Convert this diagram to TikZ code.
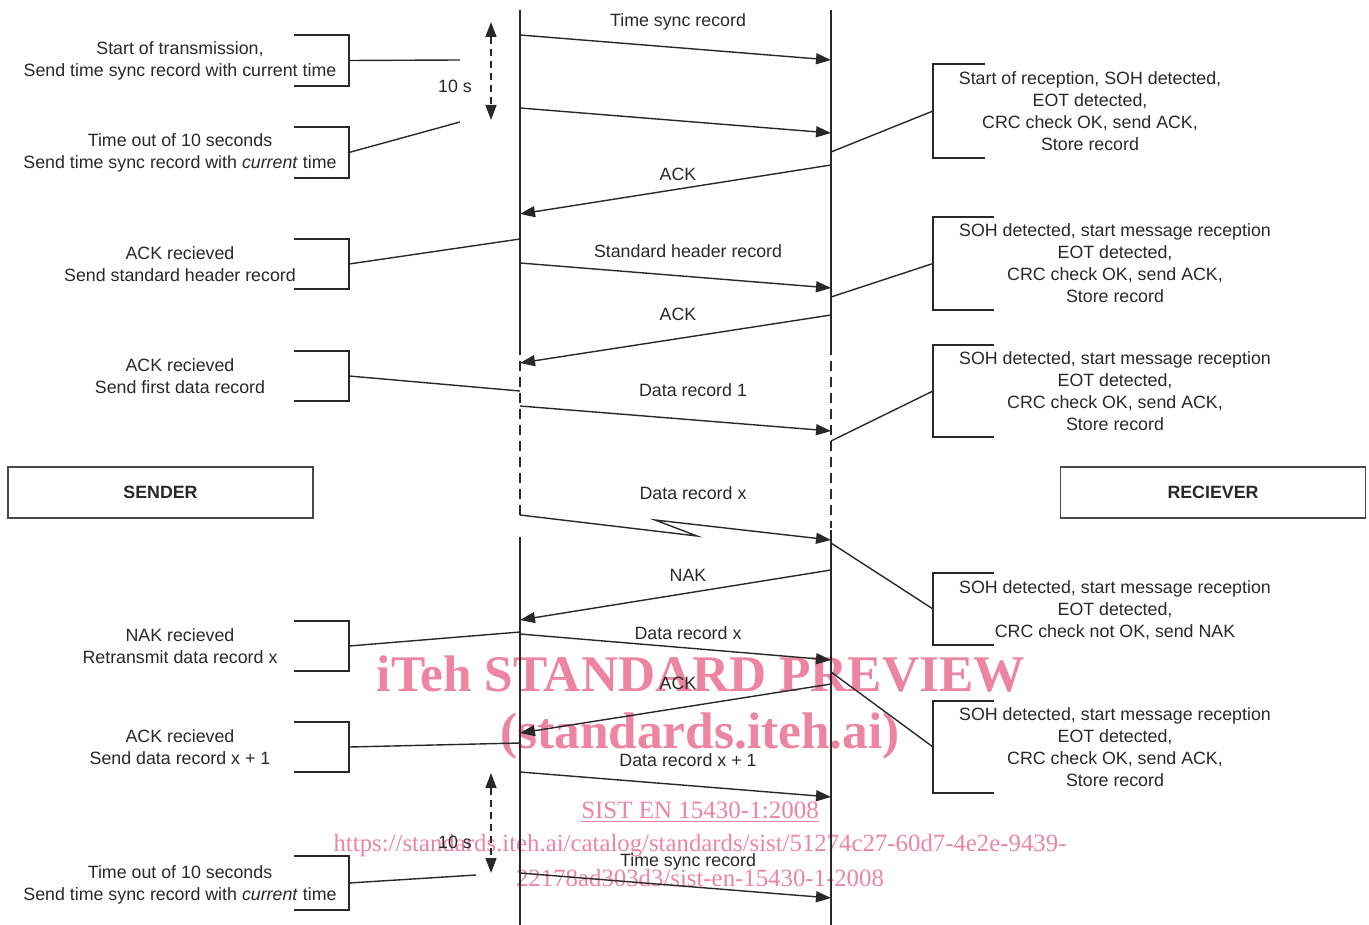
\documentclass[tikz,border=0pt]{standalone}
\usepackage{fontspec}
\setmainfont{Liberation Sans}
\newfontfamily\wmfont{Liberation Serif}
\usetikzlibrary{arrows.meta}
\definecolor{wmpink}{RGB}{236,132,162}
\definecolor{ink}{RGB}{40,40,40}
\begin{document}
\begin{tikzpicture}[x=0.5pt,y=-0.5pt,
  line/.style={draw=ink, line width=0.7pt},
  tip/.tip={Triangle[length=7.5pt,width=5.5pt]},
  msg/.style={line, -tip},
  life/.style={line},
  lifedash/.style={line, dash pattern=on 5pt off 3pt},
  timer/.style={line, dash pattern=on 3.5pt off 2.5pt, tip-tip},
  note/.style={align=center, inner sep=0pt, text=ink, font=\fontsize{8.9}{11}\selectfont},
  lbl/.style={inner sep=0pt, text=ink, font=\fontsize{8.9}{11}\selectfont},
  box/.style={draw=ink!85, line width=0.8pt, minimum width=152.5pt, minimum height=25.5pt, inner sep=0pt, text=ink, font=\bfseries\fontsize{8.9}{11}\selectfont},
  wm/.style={inner sep=0pt, text=wmpink}
]
\useasboundingbox (0,0) rectangle (1369,925);

% watermark (beneath)
\node[wm, font=\wmfont\bfseries\fontsize{25.7}{30}\selectfont] (wm1) at (701,674) {iTeh STANDARD PREVIEW};
\node[wm, font=\wmfont\bfseries\fontsize{25.7}{30}\selectfont] (wm2) at (700,736) {(standards.iteh.ai)};
\node[wm, font=\wmfont\fontsize{12.5}{16}\selectfont] (wm3) at (700,812) {\underline{SIST EN 15430-1:2008}};
\node[wm, font=\wmfont\fontsize{12.4}{16}\selectfont] (wm4) at (700,846) {https://standards.iteh.ai/catalog/standards/sist/51274c27-60d7-4e2e-9439-};
\node[wm, font=\wmfont\fontsize{12.4}{16}\selectfont] (wm5) at (700,878) {22178ad303d3/sist-en-15430-1-2008};

% lifelines
\coordinate (sTop) at (520,10);   \coordinate (sD1) at (520,345);
\coordinate (sD2) at (520,515);   \coordinate (sS) at (520,537);  \coordinate (sBot) at (520,925);
\coordinate (rTop) at (831,10);   \coordinate (rD1) at (831,345);
\coordinate (rD2) at (831,528);   \coordinate (rS) at (831,530);  \coordinate (rBot) at (831,925);
\draw[life] (sTop) -- (sD1);
\draw[lifedash] (sD1) -- (sD2);
\draw[life] (sS) -- (sBot);
\draw[life] (rTop) -- (rD1);
\draw[lifedash] (rD1) -- (rD2);
\draw[life] (rS) -- (rBot);

% actor boxes
\node[box] (sender) at (160.5,492.5) {SENDER};
\node[box] (receiver) at (1213,492.5) {RECIEVER};

% message end points
\coordinate (s1) at (520,35);  \coordinate (r1) at (831,60);
\coordinate (s2) at (520,108); \coordinate (r2) at (831,133);
\coordinate (r3) at (831,165); \coordinate (s3) at (520,214);
\coordinate (s4) at (520,263); \coordinate (r4) at (831,288);
\coordinate (r5) at (831,315); \coordinate (s5) at (520,363);
\coordinate (s6) at (520,406); \coordinate (r6) at (831,431);
\coordinate (s7) at (520,515); \coordinate (z1) at (697,536); \coordinate (z2) at (655,520); \coordinate (r7) at (831,540);
\coordinate (r8) at (831,570); \coordinate (s8) at (520,620);
\coordinate (s9) at (520,634); \coordinate (r9) at (831,660);
\coordinate (r10) at (831,684); \coordinate (s10) at (520,733);
\coordinate (s11) at (520,772); \coordinate (r11) at (831,797);
\coordinate (s12) at (520,873); \coordinate (r12) at (831,898);

\draw[msg] (s1) -- (r1);
\draw[msg] (s2) -- (r2);
\draw[msg] (r3) -- (s3);
\draw[msg] (s4) -- (r4);
\draw[msg] (r5) -- (s5);
\draw[msg] (s6) -- (r6);
\draw[msg] (s7) -- (z1) -- (z2) -- (r7);
\draw[msg] (r8) -- (s8);
\draw[msg] (s9) -- (r9);
\draw[msg] (r10) -- (s10);
\draw[msg] (s11) -- (r11);
\draw[msg] (s12) -- (r12);

% message labels
\node[lbl] (m1) at (678,22) {Time sync record};
\node[lbl] (m3) at (678,174) {ACK};
\node[lbl] (m4) at (688,251) {Standard header record};
\node[lbl] (m5) at (678,314) {ACK};
\node[lbl] (m6) at (693,390) {Data record 1};
\node[lbl] (m7) at (693,493) {Data record x};
\node[lbl] (m8) at (688,575) {NAK};
\node[lbl] (m9) at (688,633) {Data record x};
\node[lbl] (m10) at (678,683) {ACK};
\node[lbl] (m11) at (688,760) {Data record x + 1};
\node[lbl] (m12) at (688,862) {Time sync record};

% 10 s timers
\coordinate (ta1) at (491,22);  \coordinate (tb1) at (491,120);
\coordinate (ta2) at (491,773); \coordinate (tb2) at (491,873);
\draw[timer] (ta1) -- (tb1);
\draw[timer] (ta2) -- (tb2);
\node[lbl] (t1) at (455,86) {10 s};
\node[lbl] (t2) at (455,842) {10 s};

% sender notes
\foreach \n/\t/\b in {L1/35/86, L2/127/178, L3/239/289, L4/351/401, L5/621/671, L6/722/772, L7/856/910}{
  \draw[line] (294,\t) -- (349,\t) -- (349,\b) -- (294,\b);
  \coordinate (\n) at (349,{(\t+\b)/2});
}
\node[note] (n1) at (180,61) {Start of transmission,\\Send time sync record with current time};
\node[note] (n2) at (180,153) {Time out of 10 seconds\\Send time sync record with \textit{current} time};
\node[note] (n3) at (180,264) {ACK recieved\\Send standard header record};
\node[note] (n4) at (180,376) {ACK recieved\\Send first data record};
\node[note] (n5) at (180,646) {NAK recieved\\Retransmit data record x};
\node[note] (n6) at (180,747) {ACK recieved\\Send data record x + 1};
\node[note] (n7) at (180,885) {Time out of 10 seconds\\Send time sync record with \textit{current} time};

\coordinate (L1e) at (460,60);
\coordinate (L2e) at (460,122);
\coordinate (L3e) at (520,239);
\coordinate (L4e) at (520,391);
\coordinate (L5e) at (520,632);
\coordinate (L6e) at (520,743);
\coordinate (L7e) at (476,875);
\draw[line] (L1) -- (L1e);
\draw[line] (L2) -- (L2e);
\draw[line] (L3) -- (L3e);
\draw[line] (L4) -- (L4e);
\draw[line] (L5) -- (L5e);
\draw[line] (L6) -- (L6e);
\draw[line] (L7) -- (L7e);

% receiver notes
\foreach \n/\t/\b/\w in {R1/64/158/985, R2/217/310/994, R3/345/437/994, R4/573/645/994, R5/701/793/994}{
  \draw[line] (\w,\t) -- (933,\t) -- (933,\b) -- (\w,\b);
  \coordinate (\n) at (933,{(\t+\b)/2});
}
\node[note] (q1) at (1090,111) {Start of reception, SOH detected,\\EOT detected,\\CRC check OK, send ACK,\\Store record};
\node[note] (q2) at (1115,263) {SOH detected, start message reception\\EOT detected,\\CRC check OK, send ACK,\\Store record};
\node[note] (q3) at (1115,391) {SOH detected, start message reception\\EOT detected,\\CRC check OK, send ACK,\\Store record};
\node[note] (q4) at (1115,610) {SOH detected, start message reception\\EOT detected,\\CRC check not OK, send NAK};
\node[note] (q5) at (1115,747) {SOH detected, start message reception\\EOT detected,\\CRC check OK, send ACK,\\Store record};

\coordinate (R1s) at (831,152);
\coordinate (R2s) at (831,297);
\coordinate (R3s) at (831,441);
\coordinate (R4s) at (831,543);
\coordinate (R5s) at (831,672);
\draw[line] (R1s) -- (R1);
\draw[line] (R2s) -- (R2);
\draw[line] (R3s) -- (R3);
\draw[line] (R4s) -- (R4);
\draw[line] (R5s) -- (R5);
\end{tikzpicture}
\end{document}
